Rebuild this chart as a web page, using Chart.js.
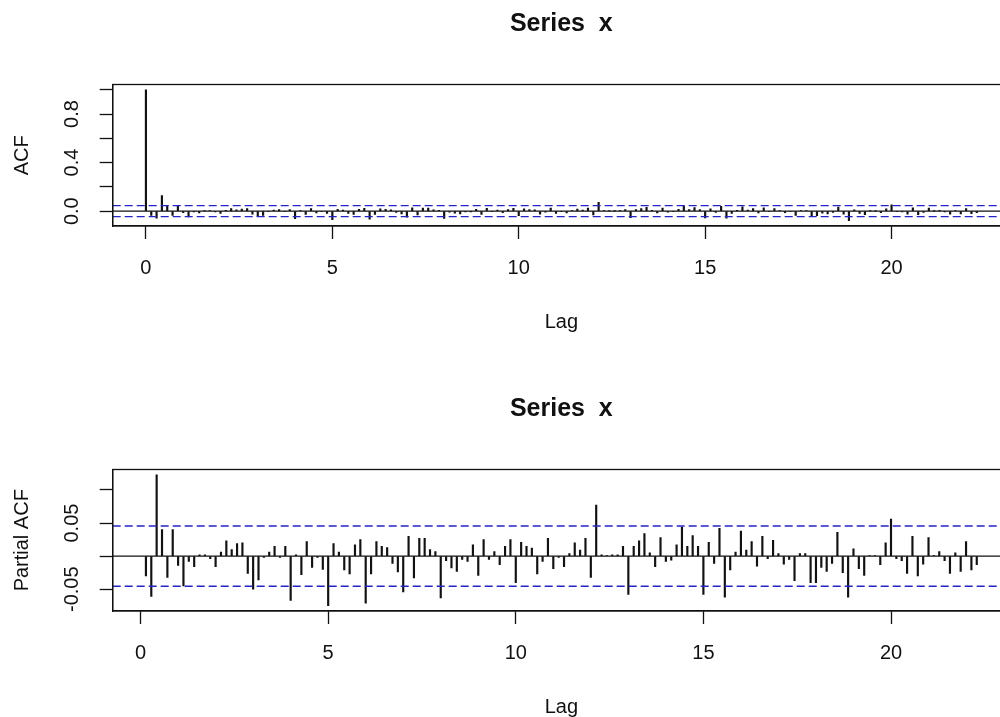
<!DOCTYPE html>
<html>
<head>
<meta charset="utf-8">
<title>Series x</title>
<script src="https://cdn.jsdelivr.net/npm/chart.js@4.4.1/dist/chart.umd.min.js"></script>
<style>
  html, body { margin: 0; padding: 0; background: #fff; overflow: hidden; width: 1000px; height: 717px; }
  .panel { position: absolute; left: 0; }
  #acf-panel { top: 0; }
  #pacf-panel { top: 385px; }
</style>
</head>
<body>
<div class="panel" id="acf-panel"><canvas id="acf-chart" width="1030" height="340"></canvas></div>
<div class="panel" id="pacf-panel"><canvas id="pacf-chart" width="1030" height="340"></canvas></div>
<script>
const FREQ = 7;          // observations per unit of lag
const CLIM = 0.0455;     // 95% white-noise bound

const lagTicks = [0, 5, 10, 15, 20];
const acfYTicks = [0, 0.2, 0.4, 0.6, 0.8, 1.0];
const acfYLabels = ['0.0', '', '0.4', '', '0.8', ''];
const pacfYTicks = [-0.05, 0, 0.05, 0.1];
const pacfYLabels = ['-0.05', '', '0.05', ''];

// autocorrelations, lag 0 upwards in steps of 1/7
const acfValues = [
  1, -0.035, -0.058, 0.128, 0.048, -0.036, 0.047, -0.012, -0.048, -0.006,
  -0.014, 0.003, 0.004, -0.006, -0.018, 0.007, 0.021, 0.012, 0.017, 0.021,
  -0.024, -0.046, -0.034, -0.004, 0.008, 0.014, -0.003, 0.013, -0.062, 0.004,
  -0.027, 0.021, -0.015, -0.004, -0.018, -0.071, 0.016, 0.008, -0.019, -0.026,
  0.016, 0.024, -0.066, -0.027, 0.02, 0.016, 0.011, -0.01, -0.022, -0.05,
  0.027, -0.031, 0.026, 0.025, 0.011, 0.006, -0.059, -0.009, -0.017, -0.022,
  -0.006, -0.007, 0.016, -0.027, 0.023, -0.004, 0.008, -0.012, 0.014, 0.024,
  -0.037, 0.02, 0.014, 0.012, -0.025, -0.009, 0.026, -0.018, -0.003, -0.015,
  0.005, 0.018, 0.008, 0.025, -0.03, 0.072, 0.004, 0.002, 0.001, 0.003,
  0.014, -0.054, 0.013, 0.022, 0.032, 0.006, -0.015, 0.026, -0.008, -0.005,
  0.016, 0.041, 0.014, 0.03, 0.014, -0.055, 0.02, -0.01, 0.04, -0.058,
  -0.019, 0.006, 0.035, 0.008, 0.021, -0.014, 0.028, -0.005, 0.022, 0.004,
  -0.012, -0.004, -0.035, 0.005, 0.004, -0.037, -0.038, -0.016, -0.022, -0.01,
  0.034, -0.024, -0.079, 0.01, -0.018, -0.028, 0.002, 0.001, -0.012, 0.019,
  0.053, -0.004, -0.006, -0.024, 0.028, -0.028, -0.011, 0.026, 0.001, 0.007,
  -0.006, -0.024, 0.005, -0.022, 0.021, -0.02, -0.012
];

// partial autocorrelations, starting at lag 1/7
const pacfValues = [
  -0.030, -0.061, 0.123, 0.040, -0.032, 0.040, -0.014, -0.045, -0.008, -0.016,
  0.002, 0.002, -0.004, -0.016, 0.006, 0.023, 0.010, 0.019, 0.020, -0.026,
  -0.050, -0.036, -0.002, 0.006, 0.015, -0.002, 0.015, -0.067, 0.002, -0.028,
  0.022, -0.017, -0.002, -0.020, -0.075, 0.019, 0.006, -0.021, -0.027, 0.017,
  0.025, -0.071, -0.027, 0.022, 0.015, 0.013, -0.011, -0.024, -0.054, 0.030,
  -0.033, 0.027, 0.027, 0.010, 0.007, -0.063, -0.007, -0.018, -0.023, -0.005,
  -0.008, 0.017, -0.029, 0.025, -0.005, 0.007, -0.013, 0.015, 0.025, -0.040,
  0.021, 0.015, 0.012, -0.027, -0.008, 0.027, -0.019, -0.002, -0.016, 0.004,
  0.020, 0.009, 0.027, -0.032, 0.077, 0.002, 0.001, 0.002, 0.002, 0.015,
  -0.058, 0.015, 0.023, 0.034, 0.005, -0.016, 0.028, -0.008, -0.006, 0.017,
  0.044, 0.015, 0.031, 0.015, -0.058, 0.021, -0.011, 0.042, -0.062, -0.021,
  0.006, 0.038, 0.009, 0.022, -0.015, 0.030, -0.004, 0.024, 0.004, -0.012,
  -0.005, -0.037, 0.004, 0.004, -0.040, -0.040, -0.017, -0.023, -0.011, 0.036,
  -0.025, -0.062, 0.011, -0.019, -0.029, 0.001, 0.001, -0.013, 0.020, 0.056,
  -0.004, -0.007, -0.026, 0.030, -0.030, -0.012, 0.028, 0.001, 0.007, -0.007,
  -0.026, 0.005, -0.023, 0.022, -0.021, -0.013
];

const acfLags = acfValues.map((_, k) => k / FREQ);
const pacfLags = pacfValues.map((_, k) => (k + 1) / FREQ);

const INK = '#111';
const BLUE = '#2424c4';
const FAMILY = "'Liberation Sans', Arial, sans-serif";
const TICK_FONT = { family: FAMILY, size: 20 };
const MAIN_FONT = { family: FAMILY, size: 25, weight: 'bold' };

const CANVAS_H = 340;
const BOX_LEFT = 112.7;
const BOX_BOTTOM = 226;

// same 4% stretch R applies to axis ranges
function padRange(lo, hi) {
  const d = (hi - lo) * 0.04;
  return [lo - d, hi + d];
}

const plotBox = {
  id: 'plotBox',
  afterDraw(chart) {
    const { ctx, chartArea: a } = chart;
    ctx.save();
    ctx.strokeStyle = INK;
    ctx.lineWidth = 1.3;
    ctx.strokeRect(a.left, a.top, a.right - a.left, a.bottom - a.top);
    ctx.restore();
  }
};

function axisLines() {
  return {
    grid: { drawOnChartArea: false, drawTicks: true, tickLength: 13, color: INK, tickWidth: 1.3, offset: false },
    border: { display: true, color: INK, width: 1.3 }
  };
}

function makePanel(canvasId, lags, values, yTicks, yLabels, yTitle, labelPad) {
  const [xMin, xMax] = padRange(Math.min(...lags), Math.max(...lags));
  const [yMin, yMax] = padRange(Math.min(-CLIM, ...values), Math.max(CLIM, ...values));
  const hline = y => [{ x: xMin, y }, { x: xMax, y }];

  return new Chart(document.getElementById(canvasId), {
    type: 'bar',
    data: {
      datasets: [
        { type: 'line', data: hline(CLIM), borderColor: BLUE, borderWidth: 1.3, borderDash: [8, 4], pointRadius: 0, order: 1 },
        { type: 'line', data: hline(-CLIM), borderColor: BLUE, borderWidth: 1.3, borderDash: [8, 4], pointRadius: 0, order: 1 },
        { type: 'line', data: hline(0), borderColor: INK, borderWidth: 1.3, pointRadius: 0, order: 2 },
        {
          data: lags.map((x, i) => ({ x, y: values[i] })),
          backgroundColor: INK,
          borderWidth: 0,
          barThickness: 1.5,
          order: 3
        }
      ]
    },
    options: {
      responsive: false,
      animation: false,
      events: [],
      layout: { padding: { left: 0, right: 20, top: 0, bottom: 0 } },
      plugins: {
        legend: { display: false },
        tooltip: { enabled: false },
        title: {
          display: true,
          text: 'Series  x',
          fullSize: false,
          color: INK,
          font: MAIN_FONT,
          padding: { top: 9.5, bottom: 45 }
        }
      },
      scales: {
        x: {
          type: 'linear',
          min: xMin,
          max: xMax,
          offset: false,
          afterBuildTicks: s => { s.ticks = lagTicks.map(value => ({ value })); },
          afterFit: s => { s.height = CANVAS_H - BOX_BOTTOM; },
          ...axisLines(),
          ticks: { font: TICK_FONT, color: INK, padding: 17, maxRotation: 0, autoSkip: false, callback: v => String(v) },
          title: { display: true, text: 'Lag', font: TICK_FONT, color: INK, padding: { top: 0, bottom: 6 } }
        },
        y: {
          type: 'linear',
          min: yMin,
          max: yMax,
          afterBuildTicks: s => { s.ticks = yTicks.map(value => ({ value })); },
          afterFit: s => { s.width = BOX_LEFT; },
          ...axisLines(),
          ticks: {
            font: TICK_FONT,
            color: INK,
            minRotation: 90,
            maxRotation: 90,
            crossAlign: 'center',
            padding: labelPad,
            autoSkip: false,
            callback: (v, i) => yLabels[i]
          },
          title: { display: true, text: yTitle, font: TICK_FONT, color: INK, padding: { top: 10, bottom: 0 } }
        }
      }
    },
    plugins: [plotBox]
  });
}

makePanel('acf-chart', acfLags, acfValues, acfYTicks, acfYLabels, 'ACF', 13);
makePanel('pacf-chart', pacfLags, pacfValues, pacfYTicks, pacfYLabels, 'Partial ACF', 4);
</script>
</body>
</html>
